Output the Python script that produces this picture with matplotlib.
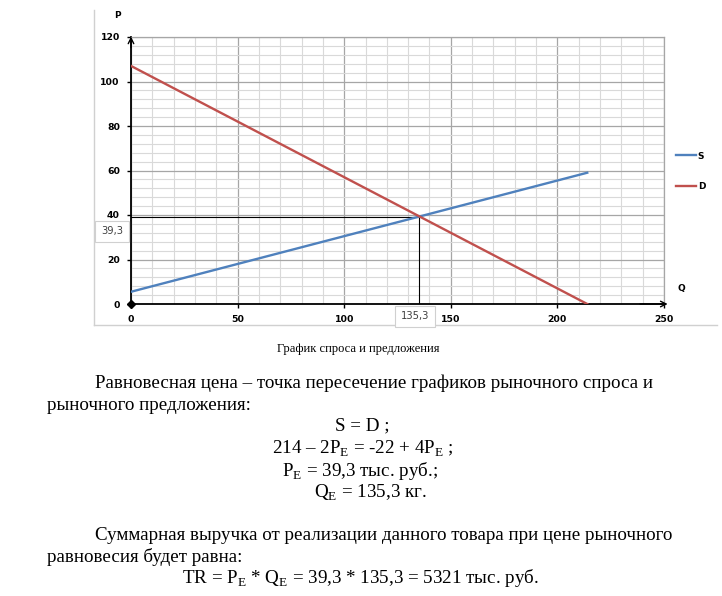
import matplotlib
matplotlib.use('Agg')
import matplotlib.pyplot as plt
from matplotlib.lines import Line2D
from matplotlib.ticker import MultipleLocator

# Данные: предложение S и спрос D
q_supply = [0, 214]
p_supply = [5.5, 59]
q_demand = [0, 214]
p_demand = [107, 0]
p_eq = 39.3
q_eq = 135.3
origin_q = [0]
origin_p = [0]

x_ticks = [0, 50, 100, 150, 200, 250]
y_ticks = [0, 20, 40, 60, 80, 100, 120]

W, H = 722, 596
BLUE = '#4f81bd'
RED = '#c0504d'

plt.rcParams['mathtext.fontset'] = 'custom'
plt.rcParams['mathtext.rm'] = 'Liberation Serif'

fig = plt.figure(figsize=(W / 100, H / 100), dpi=100)

def fx(px):
    return px / W

def fy(py):
    return 1 - py / H

# область графика
ax = fig.add_axes([fx(131), fy(304), fx(664) - fx(131), fy(37) - fy(304)])
ax.set_xlim(0, 250)
ax.set_ylim(0, 120)
ax.set_xticks(x_ticks)
ax.set_yticks(y_ticks)
ax.xaxis.set_minor_locator(MultipleLocator(10))
ax.yaxis.set_minor_locator(MultipleLocator(4))
ax.grid(True, which='major', color='#a6a6a6', lw=0.9)
ax.grid(True, which='minor', color='#d9d9d9', lw=0.8)
ax.set_axisbelow(True)
ax.tick_params(which='minor', length=0)
ax.tick_params(which='major', length=3, width=1, direction='out', pad=5,
               labelsize=6.7)
for lab in ax.get_xticklabels() + ax.get_yticklabels():
    lab.set_fontweight('bold')

for side in ['top', 'right']:
    ax.spines[side].set_color('#a6a6a6')
    ax.spines[side].set_linewidth(0.9)
for side in ['left', 'bottom']:
    ax.spines[side].set_color('black')
    ax.spines[side].set_linewidth(1.3)

# стрелки осей
ax.annotate('', xy=(0, 1.012), xytext=(0, 0.95), xycoords='axes fraction',
            arrowprops=dict(arrowstyle='->', lw=1.0, color='black'))
ax.annotate('', xy=(1.012, 0), xytext=(0.95, 0), xycoords='axes fraction',
            arrowprops=dict(arrowstyle='->', lw=1.0, color='black'))

ax.plot(q_supply, p_supply, color=BLUE, lw=1.7, label='S', zorder=3)
ax.plot(q_demand, p_demand, color=RED, lw=1.7, label='D', zorder=3)
ax.plot(origin_q, origin_p, marker='D', color='black', ms=4, clip_on=False, zorder=4)

# точка равновесия
ax.plot([0, q_eq], [p_eq, p_eq], color='black', lw=0.8, zorder=2)
ax.plot([q_eq, q_eq], [p_eq, 0], color='black', lw=0.8, zorder=2)

leg = ax.legend(loc='upper left', bbox_to_anchor=(fx(671), fy(147)),
                bbox_transform=fig.transFigure, frameon=False, borderpad=0,
                handlelength=2.3, handletextpad=0.15, labelspacing=2.4,
                prop={'size': 6.5, 'weight': 'bold'})

fig.text(fx(117), fy(15), 'P', fontsize=6.5, fontweight='bold', ha='center', va='center')
fig.text(fx(681), fy(289), 'Q', fontsize=6.5, fontweight='bold', ha='center', va='center')

box = dict(boxstyle='square,pad=0.55', fc='white', ec='#d0d0d0', lw=0.8)
fig.text(fx(112), fy(231), '39,3', fontsize=7.2, color='#404040', ha='center', va='center', bbox=box)
fig.text(fx(415), fy(316), '135,3', fontsize=7.2, color='#404040', ha='center', va='center', bbox=box)

# рамка диаграммы
fig.add_artist(Line2D([fx(94), fx(94)], [fy(10), fy(325)], color='#d0d0d0', lw=1.0))
fig.add_artist(Line2D([fx(94), fx(717)], [fy(325), fy(325)], color='#d0d0d0', lw=1.0))

# подпись и текст документа
serif = 'Liberation Serif'
fig.text(fx(358), fy(349), 'График спроса и предложения', family=serif,
         fontsize=9, ha='center', va='center')

T = 13.7
fig.text(fx(95), fy(383), 'Равновесная цена – точка пересечение графиков рыночного спроса и',
         family=serif, fontsize=T, va='center')
fig.text(fx(47), fy(405), 'рыночного предложения:', family=serif, fontsize=T, va='center')
fig.text(fx(362), fy(426), 'S = D ;', family=serif, fontsize=T, ha='center', va='center')
fig.text(fx(363), fy(449), r'214 – 2P$_{\mathrm{E}}$ = -22 + 4P$_{\mathrm{E}}$ ;',
         family=serif, fontsize=T, ha='center', va='center')
fig.text(fx(360), fy(471), r'P$_{\mathrm{E}}$ = 39,3 тыс. руб.;', family=serif,
         fontsize=T, ha='center', va='center')
fig.text(fx(370), fy(493), r'Q$_{\mathrm{E}}$ = 135,3 кг.', family=serif,
         fontsize=T, ha='center', va='center')
fig.text(fx(95), fy(535), 'Суммарная выручка от реализации данного товара при цене рыночного',
         family=serif, fontsize=T, va='center')
fig.text(fx(47), fy(557), 'равновесия будет равна:', family=serif, fontsize=T, va='center')
fig.text(fx(360), fy(578),
         r'TR = P$_{\mathrm{E}}$ * Q$_{\mathrm{E}}$ = 39,3 * 135,3 = 5321 тыс. руб.',
         family=serif, fontsize=T, ha='center', va='center')

fig.savefig('out.png', dpi=100)
